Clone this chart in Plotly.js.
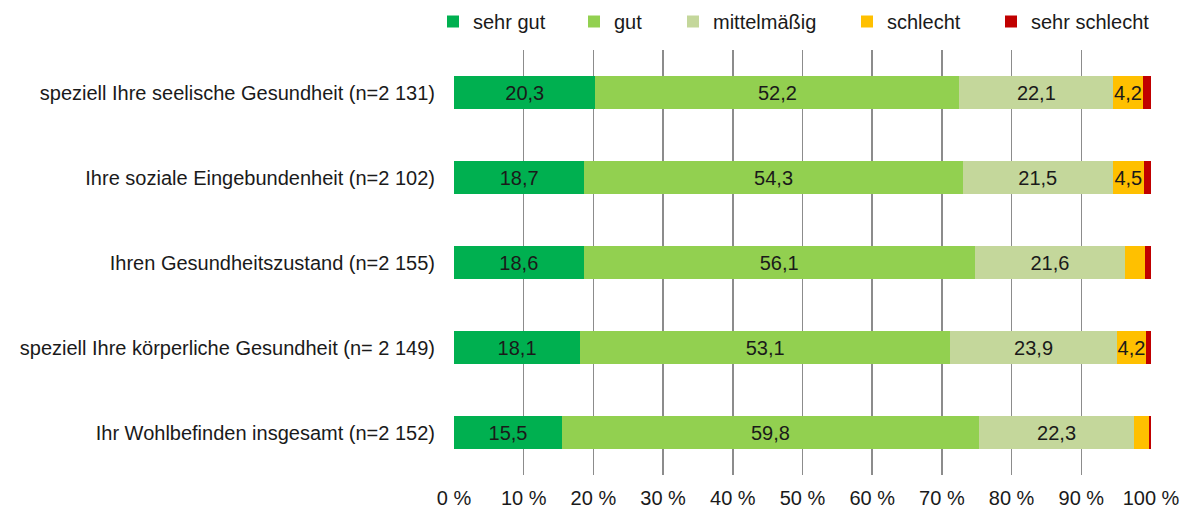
<!DOCTYPE html>
<html>
<head>
<meta charset="utf-8">
<script src="https://cdn.plot.ly/plotly-3.0.1.min.js"></script>
<style>html,body{margin:0;padding:0;background:#fff;}#chart{width:1190px;height:510px;}</style>
</head>
<body>
<div id="chart"></div>
<script>
const categories = [
  "speziell Ihre seelische Gesundheit (n=2 131)",
  "Ihre soziale Eingebundenheit (n=2 102)",
  "Ihren Gesundheitszustand (n=2 155)",
  "speziell Ihre körperliche Gesundheit (n= 2 149)",
  "Ihr Wohlbefinden insgesamt (n=2 152)"
];
const seriesNames = ["sehr gut", "gut", "mittelmäßig", "schlecht", "sehr schlecht"];
const sehrGut      = [20.3, 18.7, 18.6, 18.1, 15.5];
const gut          = [52.2, 54.3, 56.1, 53.1, 59.8];
const mittelmaessig= [22.1, 21.5, 21.6, 23.9, 22.3];
const schlecht     = [4.2, 4.5, 2.9, 4.2, 2.1];
const sehrSchlecht = [1.2, 1.0, 0.8, 0.7, 0.3];
const xTicks = [0, 10, 20, 30, 40, 50, 60, 70, 80, 90, 100];

const seriesValues = [sehrGut, gut, mittelmaessig, schlecht, sehrSchlecht];
const colors = ["#00B050", "#92D050", "#C4D79B", "#FFC000", "#C00000"];
const legendIds = ["legend", "legend2", "legend3", "legend4", "legend5"];
const FONT = "Liberation Sans, Arial, sans-serif";
const FS = 20;

const traces = seriesValues.map((vals, i) => ({
  type: "bar",
  orientation: "h",
  name: seriesNames[i],
  y: categories,
  x: vals,
  width: 0.39,
  marker: {color: colors[i], line: {width: 0}},
  text: vals.map(v => v >= 4 ? v.toFixed(1).replace(".", ",") : ""),
  textposition: "inside",
  insidetextanchor: "middle",
  textangle: 0,
  constraintext: "none",
  textfont: {family: FONT, size: FS, color: "#1a1a1a"},
  legend: legendIds[i],
  hoverinfo: "x+name"
}));

// legend text starts (px) in reference
const legendTextStart = [473, 614, 713, 887, 1031];
const plotL = 454, plotW = 697;
const layout = {
  width: 1190, height: 510,
  margin: {l: plotL, r: 1190 - plotL - plotW, t: 50, b: 35},
  barmode: "stack",
  paper_bgcolor: "#fff", plot_bgcolor: "#fff",
  font: {family: FONT, size: FS, color: "#1a1a1a"},
  showlegend: true,
  xaxis: {
    range: [0, 100],
    tickvals: xTicks,
    ticktext: xTicks.map(t => t + " %"),
    showgrid: true, gridcolor: "#8c8c8c", gridwidth: 1.5,
    zeroline: false, showline: false,
    ticks: "", ticklabelstandoff: 9,
    tickfont: {family: FONT, size: FS, color: "#1a1a1a"},
    fixedrange: true
  },
  yaxis: {
    categoryorder: "array", categoryarray: categories,
    autorange: "reversed",
    showgrid: false, zeroline: false, showline: false,
    ticks: "", ticklabelstandoff: 18,
    tickfont: {family: FONT, size: FS, color: "#1a1a1a"},
    fixedrange: true
  }
};
legendIds.forEach((id, i) => {
  layout[id] = {
    orientation: "h",
    x: (legendTextStart[i] - 40 - plotL) / plotW,
    xanchor: "left",
    xref: "paper",
    y: 1 - 2 / 510, yref: "container", yanchor: "top",
    bgcolor: "rgba(0,0,0,0)",
    font: {family: FONT, size: FS, color: "#1a1a1a"},
    itemclick: false, itemdoubleclick: false
  };
});

Plotly.newPlot("chart", traces, layout, {displayModeBar: false, staticPlot: true});
</script>
</body>
</html>
